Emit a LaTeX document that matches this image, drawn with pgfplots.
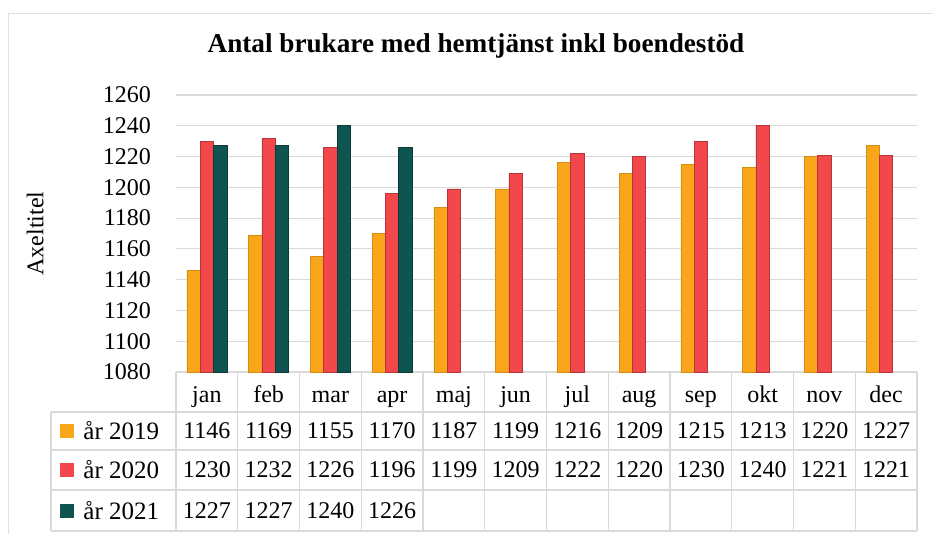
\documentclass[border=0pt]{standalone}
\usepackage{fontspec}
\setmainfont{Liberation Serif}
\usepackage{pgfplots}
\usepackage{pgfplotstable}
\pgfplotsset{compat=1.18}

\definecolor{c19}{HTML}{F9A61A}
\definecolor{c20}{HTML}{F2474B}
\definecolor{c21}{HTML}{0E5451}
\definecolor{gridgray}{HTML}{D9D9D9}
\pgfkeys{/pgf/number format/.cd,1000 sep={},assume math mode=true}

% antal brukare per manad
\pgfplotstableread{
m  y19  y20  y21
0  1146 1230 1227
1  1169 1232 1227
2  1155 1226 1240
3  1170 1196 1226
4  1187 1199 nan
5  1199 1209 nan
6  1216 1222 nan
7  1209 1220 nan
8  1215 1230 nan
9  1213 1240 nan
10 1220 1221 nan
11 1227 1221 nan
}\brukare

\pgfplotsset{
  chartbox/.style={at={(88pt,83pt)}, anchor=south west, scale only axis,
    width=370.5pt, height=138.5pt, xmin=-0.5, xmax=11.5, ymin=1080, ymax=1260},
  tabrow/.style={draw=none, mark=none, forget plot, nodes near coords,
    point meta=explicit,
    nodes near coords style={anchor=center, text=black, font=\fontsize{12}{14}\selectfont}},
}

\begin{document}
\begin{tikzpicture}[font=\fontsize{12}{14}\selectfont]
\useasboundingbox (0,0) rectangle (466.5pt,269pt);

\begin{axis}[chartbox,
    ybar=0pt, bar width=6.67pt,
    ytick={1080,1100,...,1260},
    ymajorgrids, grid style={gridgray, line width=0.6pt},
    axis line style={draw=none}, major tick length=0pt,
    xtick=data,
    xticklabels={jan,feb,mar,apr,maj,jun,jul,aug,sep,okt,nov,dec},
    xticklabel style={anchor=base, yshift=-15pt},
    yticklabel style={xshift=-9pt},
    ylabel={Axeltitel},
    ylabel style={at={(axis description cs:-0.19,0.5)}, anchor=center},
    unbounded coords=discard,
]
\addplot[fill=c19, draw=c19!85!black, line width=0.3pt] table[x=m, y=y19] {\brukare};
\addplot[fill=c20, draw=c20!75!black, line width=0.3pt] table[x=m, y=y20] {\brukare};
\addplot[fill=c21, draw=c21!70!black, line width=0.3pt] table[x=m, y=y21] {\brukare};
\end{axis}

% datatabell under diagrammet
\begin{axis}[chartbox, hide axis, clip=false]
\addplot[tabrow] table[x=m, y expr=1041.7, meta=y19] {\brukare};
\addplot[tabrow] table[x=m, y expr=1016.3, meta=y20] {\brukare};
\addplot[tabrow, restrict x to domain=0:3] table[x=m, y expr=989.7, meta=y21] {\brukare};
\end{axis}

\begin{scope}[gridgray, line width=0.6pt]
  \foreach \yy in {63,44,24,3.5} \draw (25.5pt,\yy pt) -- (458.5pt,\yy pt);
  \draw (25.5pt,63pt) -- (25.5pt,3.5pt);
  \foreach \k in {0,...,12} \draw (88pt+\k*30.875pt,83pt) -- ++(0,-79.5pt);
\end{scope}

\fill[c19] (30pt,50pt) rectangle ++(7pt,7pt);
\fill[c20] (30pt,30.5pt) rectangle ++(7pt,7pt);
\fill[c21] (30pt,10pt) rectangle ++(7pt,7pt);
\node[anchor=west, inner sep=0pt, font=\fontsize{12.5}{14}\selectfont] at (41.5pt,53.5pt) {år 2019};
\node[anchor=west, inner sep=0pt, font=\fontsize{12.5}{14}\selectfont] at (41.5pt,34pt) {år 2020};
\node[anchor=west, inner sep=0pt, font=\fontsize{12.5}{14}\selectfont] at (41.5pt,13.5pt) {år 2021};

\node[font=\fontsize{13.6}{16}\selectfont\bfseries] at (238pt,246pt)
  {Antal brukare med hemtjänst inkl boendestöd};

\draw[gridgray!80, line width=0.5pt] (466.5pt,262.5pt) -- (4pt,262.5pt) -- (4pt,2pt);
\end{tikzpicture}
\end{document}
